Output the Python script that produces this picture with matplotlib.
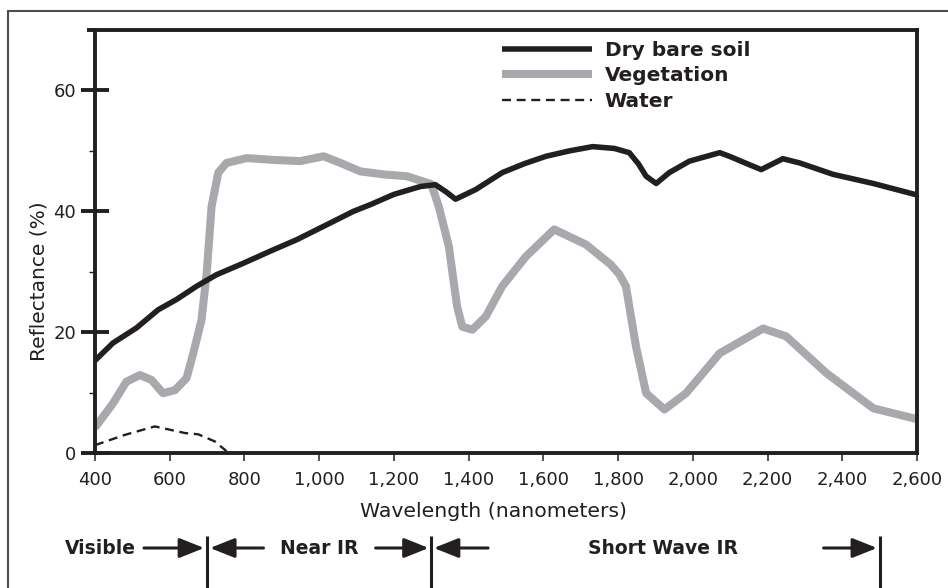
import matplotlib
matplotlib.use("Agg")
import matplotlib.pyplot as plt
from matplotlib.patches import Rectangle
from matplotlib.ticker import FuncFormatter, MultipleLocator

# reflectance curves (wavelength nm, reflectance %)
soil_nm = [400, 448, 511, 569, 618, 672, 725, 797, 869, 940, 1021, 1092, 1137, 1200,
           1271, 1311, 1340, 1365, 1419, 1490, 1550, 1607, 1670, 1732, 1790, 1830,
           1855, 1875, 1902, 1937, 1991, 2072, 2098, 2140, 2183, 2241, 2286, 2376,
           2483, 2600]
soil_pct = [15.3, 18.2, 20.7, 23.7, 25.4, 27.6, 29.5, 31.4, 33.4, 35.3, 37.8, 40.0, 41.1, 42.8,
            44.1, 44.4, 43.2, 42.0, 43.6, 46.4, 47.9, 49.1, 50.0, 50.7, 50.4, 49.7,
            47.8, 45.8, 44.6, 46.4, 48.3, 49.7, 49.1, 48.0, 46.9, 48.7, 48.0, 46.1,
            44.6, 42.7]

veg_nm = [400, 448, 484, 520, 551, 582, 614, 645, 663, 685, 699, 712, 730, 752, 806,
          878, 949, 1012, 1057, 1110, 1173, 1235, 1280, 1300, 1320, 1347, 1369, 1383,
          1410, 1446, 1490, 1553, 1629, 1714, 1780, 1803, 1821, 1848, 1875, 1924,
          1982, 2072, 2188, 2250, 2358, 2483, 2600]
veg_pct = [4.2, 8.2, 11.8, 12.9, 12.1, 9.9, 10.4, 12.4, 16.5, 22.0, 29.8, 40.8, 46.4, 48.0, 48.8,
           48.5, 48.3, 49.1, 48.0, 46.6, 46.1, 45.8, 44.9, 44.5, 40.8, 34.2, 24.3, 20.9,
           20.4, 22.6, 27.6, 32.5, 37.0, 34.5, 31.2, 29.6, 27.6, 17.6, 9.9, 7.2,
           9.9, 16.5, 20.6, 19.3, 13.2, 7.4, 5.6]

water_nm = [400, 480, 560, 641, 676, 721, 752]
water_pct = [1.3, 3.0, 4.4, 3.3, 3.1, 1.9, 0.3]

series_names = ["Dry bare soil", "Vegetation", "Water"]

# spectral regions below the axis
band_edges = [700, 1300, 2500]
band_names = ["Visible", "Near IR", "Short Wave IR"]
band_label_nm = [415, 1001, 1920]

ink = "#231f20"
grey = "#a7a9ac"
W, H = 948, 588

plt.rcParams["font.family"] = ["DejaVu Sans"]
fig = plt.figure(figsize=(W / 100, H / 100), dpi=100)
fig.patch.set_facecolor("white")

# outer frame (only top and left edges visible in the picture)
fig.patches.append(Rectangle((8 / W, -0.1), 1.2, 1 - 11 / H + 0.1, transform=fig.transFigure,
                             fill=False, edgecolor="#4d4d4d", lw=1.5))

ax = fig.add_axes([95 / W, 1 - 453 / H, 822 / W, 423 / H])

ax.plot(soil_nm, soil_pct, color=ink, lw=4.0, solid_joinstyle="round",
        solid_capstyle="butt", label=series_names[0], zorder=3)
ax.plot(veg_nm, veg_pct, color=grey, lw=5.8, solid_joinstyle="round",
        solid_capstyle="butt", label=series_names[1], zorder=2)
ax.plot(water_nm, water_pct, color=ink, lw=1.7, ls=(0, (3.8, 2.4)),
        label=series_names[2], zorder=2)

ax.set_xlim(400, 2600)
ax.set_ylim(0, 70)

for s in ax.spines.values():
    s.set_linewidth(2.8)
    s.set_color(ink)
# top rule sticks out a little past the left spine
ax.plot([-8 / 822, 0], [1, 1], transform=ax.transAxes, color=ink, lw=2.8,
        clip_on=False, solid_capstyle="butt")

ax.xaxis.set_major_locator(MultipleLocator(200))
ax.xaxis.set_major_formatter(FuncFormatter(lambda v, p: f"{int(v):,}"))
ax.yaxis.set_major_locator(MultipleLocator(20))
ax.yaxis.set_minor_locator(MultipleLocator(10))

ax.tick_params(axis="x", which="major", direction="out", length=6, width=1.1,
               color=ink, labelsize=13, labelcolor=ink, pad=7)
ax.tick_params(axis="y", which="major", direction="inout", length=19.5, width=2.8,
               color=ink, labelsize=13, labelcolor=ink, pad=4)
ax.tick_params(axis="y", which="minor", direction="out", length=4, width=1, color=ink)
ax.tick_params(axis="x", which="minor", bottom=False)

# end ticks continue the side spines below the axis
xt = ax.xaxis.get_major_ticks()
for t in (xt[0], xt[-1]):
    t.tick1line.set_markeredgewidth(2.8)
    t.tick1line.set_markersize(8.5)

ax.set_xlabel("Wavelength (nanometers)", fontsize=14.7, color=ink, va="center")
ax.xaxis.set_label_coords(0.485, -0.139)
ax.set_ylabel("Reflectance (%)", fontsize=14.5, color=ink)
ax.yaxis.set_label_coords(-0.057, 0.407)

leg = ax.legend(loc="upper left", bbox_to_anchor=(502 / W, 1 - 41 / H),
                bbox_transform=fig.transFigure, frameon=False, borderpad=0,
                borderaxespad=0, handlelength=4.45, handletextpad=0.65,
                labelspacing=0.32, prop={"weight": "bold", "size": 14.5})
for txt in leg.get_texts():
    txt.set_color(ink)

# spectral region markers under the axis
tr = ax.get_xaxis_transform()
for e in band_edges:
    ax.plot([e, e], [-0.196, -0.33], transform=tr, color=ink, lw=2.2,
            clip_on=False, solid_capstyle="butt")
for name, x in zip(band_names, band_label_nm):
    ax.text(x, -0.2246, name, transform=tr, ha="center", va="center",
            fontsize=13.5, fontweight="bold", color=ink)

arrows = [(531, 692), (851, 708), (1151, 1293), (1452, 1307), (2350, 2493)]
for tail, tip in arrows:
    ax.annotate("", xy=(tip, -0.2246), xytext=(tail, -0.2246), xycoords=tr,
                textcoords=tr, annotation_clip=False,
                arrowprops=dict(arrowstyle="-|>,head_length=0.75,head_width=0.3",
                                mutation_scale=20, lw=2.2, color=ink,
                                shrinkA=0, shrinkB=0))

fig.savefig("out.png", dpi=100, facecolor="white")
